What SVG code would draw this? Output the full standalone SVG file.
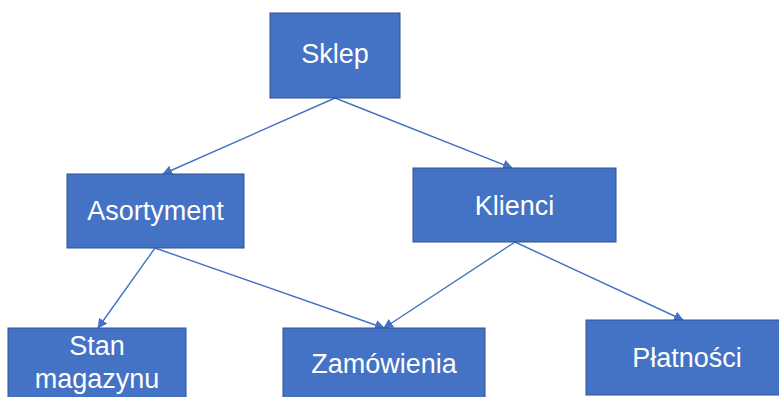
<svg xmlns="http://www.w3.org/2000/svg" width="779" height="397" viewBox="0 0 779 397">
<style>
.box{fill:#4472C4;stroke:#2F528F;stroke-width:1}
.lbl{fill:#fff;font-family:"Liberation Sans",Arial,sans-serif;font-size:27px;text-anchor:middle}
.edge{stroke:#4472C4;stroke-width:1.4;fill:none;marker-end:url(#arr)}
</style>
<defs>
<marker id="arr" viewBox="0 0 10 10" refX="9" refY="5" markerWidth="10" markerHeight="10" markerUnits="userSpaceOnUse" orient="auto">
<path d="M0,0 L10,5 L0,10 z" fill="#4472C4"/>
</marker>
</defs>
<rect width="779" height="397" fill="#fff"/>
<g id="connectors">
<line class="edge" x1="335" y1="98" x2="163" y2="174"/>
<line class="edge" x1="335" y1="98" x2="512" y2="168"/>
<line class="edge" x1="155" y1="248" x2="98" y2="328"/>
<line class="edge" x1="155" y1="248" x2="384" y2="328"/>
<line class="edge" x1="515" y1="242" x2="384" y2="328"/>
<line class="edge" x1="515" y1="242" x2="683" y2="320"/>
</g>
<g id="sklep"><rect class="box" x="270" y="13" width="130" height="85"/><text class="lbl" x="335" y="63">Sklep</text></g>
<g id="asortyment"><rect class="box" x="67" y="174" width="177" height="74"/><text class="lbl" x="155.5" y="220">Asortyment</text></g>
<g id="klienci"><rect class="box" x="413" y="168" width="203" height="74"/><text class="lbl" x="514.5" y="215">Klienci</text></g>
<g id="stan"><rect class="box" x="8" y="328" width="178" height="80"/><text class="lbl" x="97" y="355">Stan</text><text class="lbl" x="97" y="388">magazynu</text></g>
<g id="zamowienia"><rect class="box" x="283" y="328" width="202" height="80"/><text class="lbl" x="384" y="373">Zamówienia</text></g>
<g id="platnosci"><rect class="box" x="586" y="320" width="200" height="75"/><text class="lbl" x="687" y="367">Płatności</text></g>
</svg>
